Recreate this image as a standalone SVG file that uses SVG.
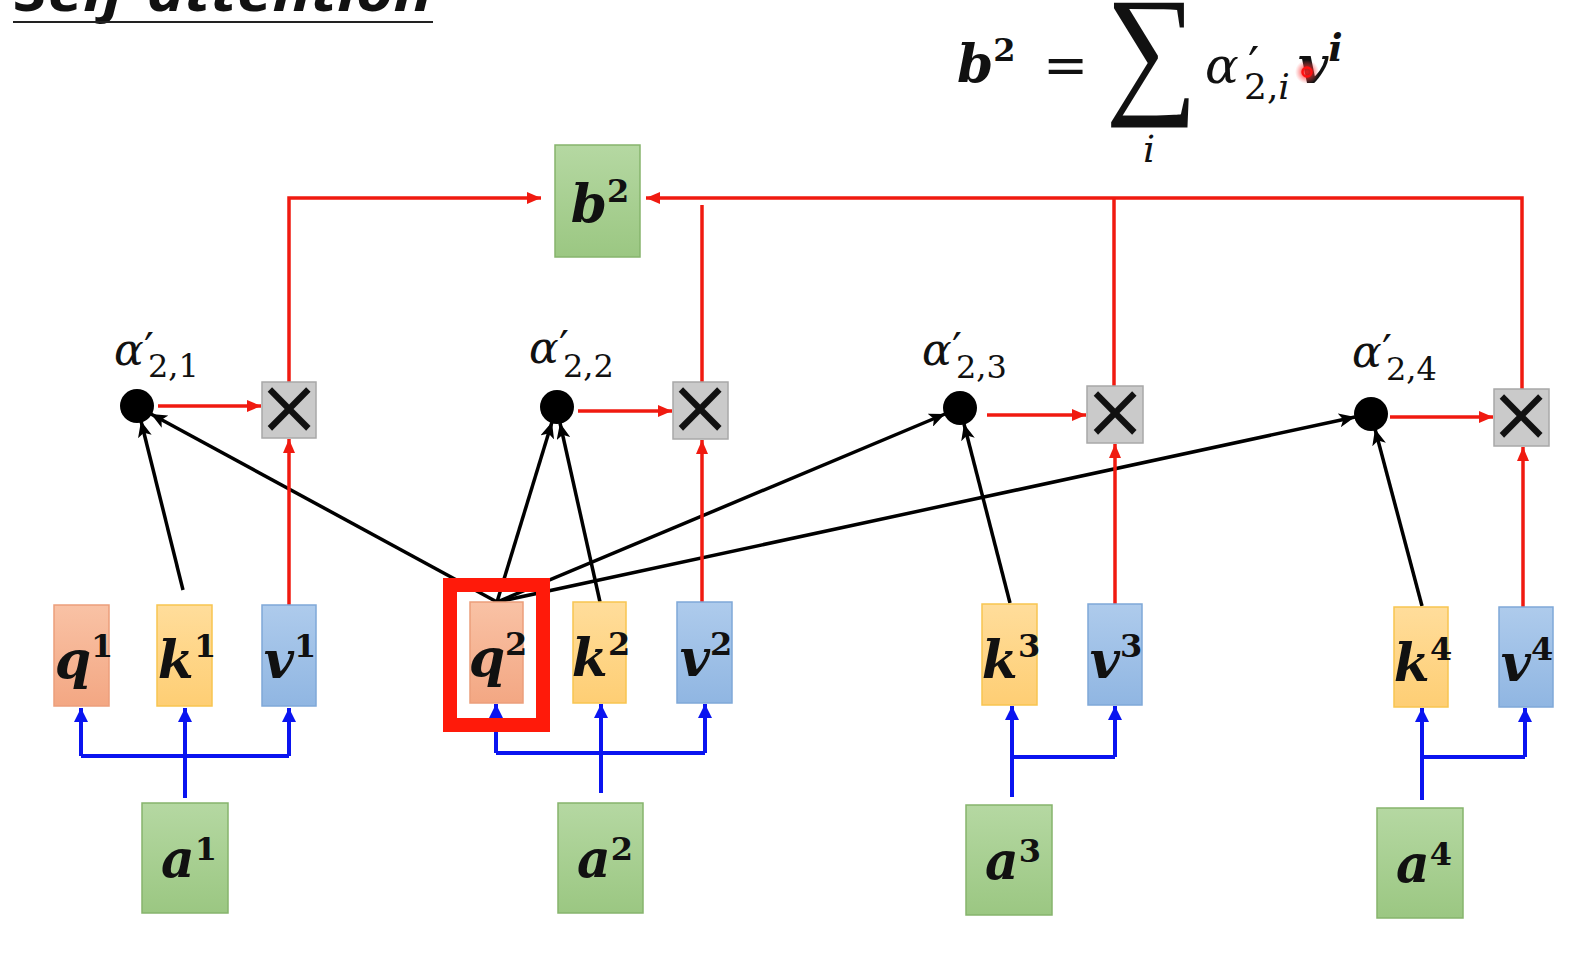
<svg xmlns="http://www.w3.org/2000/svg" width="1569" height="955" viewBox="0 0 1569 955">
<style>
  .var { font-family: "DejaVu Serif", "Liberation Serif", serif; font-weight: bold; font-style: italic; font-size: 52px; fill: #111; }
  .box { text-anchor: middle; }
  .sup { font-family: "DejaVu Serif", "Liberation Serif", serif; font-weight: bold; font-style: normal; font-size: 32px; fill: #111; }
  .alpha { font-family: "DejaVu Serif", "Liberation Serif", serif; font-style: italic; font-size: 44px; fill: #111; }
  .prime { font-family: "DejaVu Serif", "Liberation Serif", serif; font-size: 44px; fill: #111; }
  .sub { font-family: "DejaVu Serif", "Liberation Serif", serif; font-size: 32px; fill: #111; }
  .times { font-family: "DejaVu Sans", sans-serif; font-size: 76px; fill: #111; text-anchor: middle; }
  .red { stroke: #F01A10; stroke-width: 3.5; fill: none; }
  .blue { stroke: #0A14F0; stroke-width: 4; fill: none; }
  .black { stroke: #000; stroke-width: 3.5; fill: none; }
  .qbox { fill: url(#gq); stroke: #EC9E7B; stroke-width: 1.5; }
  .kbox { fill: url(#gk); stroke: #F8C550; stroke-width: 1.5; }
  .vbox { fill: url(#gv); stroke: #7FA8D8; stroke-width: 1.5; }
  .abox { fill: url(#ga); stroke: #86B46C; stroke-width: 1.5; }
  .xbox { fill: #CACACA; stroke: #A8A8A8; stroke-width: 1.5; }
</style>
<defs>
  <linearGradient id="gq" x1="0" y1="0" x2="0" y2="1"><stop offset="0" stop-color="#F9C2A5"/><stop offset="1" stop-color="#F3A783"/></linearGradient>
  <linearGradient id="gk" x1="0" y1="0" x2="0" y2="1"><stop offset="0" stop-color="#FFDD9B"/><stop offset="1" stop-color="#FECE74"/></linearGradient>
  <linearGradient id="gv" x1="0" y1="0" x2="0" y2="1"><stop offset="0" stop-color="#AECBEC"/><stop offset="1" stop-color="#90B6E2"/></linearGradient>
  <linearGradient id="ga" x1="0" y1="0" x2="0" y2="1"><stop offset="0" stop-color="#B5D8A2"/><stop offset="1" stop-color="#9BC782"/></linearGradient>
  <radialGradient id="laser"><stop offset="0" stop-color="#FF2020" stop-opacity="0.9"/><stop offset="0.5" stop-color="#FF3030" stop-opacity="0.55"/><stop offset="1" stop-color="#FF6060" stop-opacity="0"/></radialGradient>
  <marker id="ar" markerUnits="userSpaceOnUse" markerWidth="14" markerHeight="12" refX="14" refY="6" orient="auto"><path d="M0,0 L14,6 L0,12 z" fill="#F01A10"/></marker>
  <marker id="ab" markerUnits="userSpaceOnUse" markerWidth="14" markerHeight="14" refX="14" refY="7" orient="auto"><path d="M0,0 L14,7 L0,14 z" fill="#0A14F0"/></marker>
  <marker id="ak" markerUnits="userSpaceOnUse" markerWidth="16" markerHeight="14" refX="16" refY="7" orient="auto"><path d="M0,0 L16,7 L0,14 L4,7 z" fill="#000"/></marker>
</defs>
<rect width="1569" height="955" fill="#FFFFFF"/>

<!-- title (cut off at top) -->
<g id="title">
  <text x="14" y="11" font-family="Open Sans, Liberation Sans, sans-serif" font-weight="bold" font-style="italic" font-size="56" textLength="418" lengthAdjust="spacingAndGlyphs" fill="#111">Self-attention</text>
  <line x1="13" y1="22" x2="433" y2="22" stroke="#222" stroke-width="2"/>
</g>

<!-- formula -->
<g id="formula">
  <text x="957" y="82" class="var" font-size="60">b<tspan class="sup" font-size="40" dy="-21">2</tspan></text>
  <text x="1043" y="84" font-family="DejaVu Serif, serif" font-size="54" fill="#111">=</text>
  <text x="1228" y="97" transform="scale(0.9,1)" font-family="Liberation Serif, serif" font-size="144" fill="#111">∑</text>
  <text x="1143" y="162" font-family="DejaVu Serif, serif" font-style="italic" font-size="38" fill="#111">i</text>
  <text x="1205" y="83" font-family="DejaVu Serif, serif" font-style="italic" font-size="50" fill="#111">α</text>
  <text x="1248" y="83" font-family="DejaVu Serif, serif" font-size="50" fill="#111">′</text>
  <text x="1244" y="99" font-family="DejaVu Serif, serif" font-size="36" fill="#111">2,<tspan font-style="italic">i</tspan></text>
  <text x="1298" y="83" class="var" font-size="64">v<tspan dy="-22" font-size="38">i</tspan></text>
  <circle cx="1307" cy="72" r="12" fill="url(#laser)"/>
  <circle cx="1307" cy="72" r="4.5" fill="none" stroke="#FF1010" stroke-width="2.5"/>
</g>

<!-- connectors -->
<g id="connectors">
  <!-- blue: a -> q,k,v -->
  <path class="blue" d="M81,756 H289"/>
  <path class="blue" d="M185,798 V708" marker-end="url(#ab)"/>
  <path class="blue" d="M81,756 V708" marker-end="url(#ab)"/>
  <path class="blue" d="M289,756 V708" marker-end="url(#ab)"/>

  <path class="blue" d="M496,753 H705"/>
  <path class="blue" d="M601,793 V704" marker-end="url(#ab)"/>
  <path class="blue" d="M496,753 V704" marker-end="url(#ab)"/>
  <path class="blue" d="M705,753 V704" marker-end="url(#ab)"/>

  <path class="blue" d="M1012,757 H1115"/>
  <path class="blue" d="M1012,797 V706" marker-end="url(#ab)"/>
  <path class="blue" d="M1115,757 V706" marker-end="url(#ab)"/>

  <path class="blue" d="M1422,757 H1525"/>
  <path class="blue" d="M1422,800 V708" marker-end="url(#ab)"/>
  <path class="blue" d="M1525,757 V708" marker-end="url(#ab)"/>

  <!-- black: q2,k -> alpha -->
  <path class="black" d="M183,590 L141,421" marker-end="url(#ak)"/>
  <path class="black" d="M497,602 L151,414" marker-end="url(#ak)"/>
  <path class="black" d="M497,602 L552,422" marker-end="url(#ak)"/>
  <path class="black" d="M600,602 L560,423" marker-end="url(#ak)"/>
  <path class="black" d="M497,602 L945,414" marker-end="url(#ak)"/>
  <path class="black" d="M1010,603 L964,424" marker-end="url(#ak)"/>
  <path class="black" d="M497,602 L1355,417" marker-end="url(#ak)"/>
  <path class="black" d="M1422,606 L1375,429" marker-end="url(#ak)"/>

  <!-- red: alpha -> x, v -> x -->
  <path class="red" d="M158,406 H261" marker-end="url(#ar)"/>
  <path class="red" d="M578,411 H672" marker-end="url(#ar)"/>
  <path class="red" d="M987,415 H1086" marker-end="url(#ar)"/>
  <path class="red" d="M1390,417 H1493" marker-end="url(#ar)"/>
  <path class="red" d="M289,605 V439" marker-end="url(#ar)"/>
  <path class="red" d="M702,602 V440" marker-end="url(#ar)"/>
  <path class="red" d="M1115,604 V444" marker-end="url(#ar)"/>
  <path class="red" d="M1523,607 V447" marker-end="url(#ar)"/>

  <!-- red: x -> b2 -->
  <path class="red" d="M289,382 V198 H541" marker-end="url(#ar)"/>
  <path class="red" d="M1522,389 V198 H646" marker-end="url(#ar)"/>
  <path class="red" d="M1114,386 V198"/>
  <path class="red" d="M702,382 V205"/>
</g>

<!-- b2 -->
<g id="b2">
  <rect class="abox" x="555" y="145" width="85" height="112"/>
  <text x="600" y="222" class="var box">b<tspan class="sup" dy="-20">2</tspan></text>
</g>

<!-- alpha nodes -->
<g id="alpha1">
  <circle cx="137" cy="406" r="17" fill="#000"/>
  <text x="114" y="365" class="alpha">α</text>
  <text x="144" y="365" class="prime">′</text>
  <text x="148" y="377" class="sub">2,1</text>
</g>
<g id="alpha2">
  <circle cx="557" cy="407" r="17" fill="#000"/>
  <text x="529" y="363" class="alpha">α</text>
  <text x="559" y="363" class="prime">′</text>
  <text x="563" y="377" class="sub">2,2</text>
</g>
<g id="alpha3">
  <circle cx="960" cy="408" r="17" fill="#000"/>
  <text x="922" y="365" class="alpha">α</text>
  <text x="952" y="365" class="prime">′</text>
  <text x="956" y="378" class="sub">2,3</text>
</g>
<g id="alpha4">
  <circle cx="1371" cy="414" r="17" fill="#000"/>
  <text x="1352" y="367" class="alpha">α</text>
  <text x="1382" y="367" class="prime">′</text>
  <text x="1386" y="380" class="sub">2,4</text>
</g>

<!-- multiply nodes -->
<g id="mul1"><rect class="xbox" x="262" y="382" width="54" height="56"/><text x="289" y="433" class="times">×</text></g>
<g id="mul2"><rect class="xbox" x="673" y="382" width="55" height="57"/><text x="700" y="433" class="times">×</text></g>
<g id="mul3"><rect class="xbox" x="1087" y="386" width="56" height="57"/><text x="1115" y="437" class="times">×</text></g>
<g id="mul4"><rect class="xbox" x="1494" y="389" width="55" height="57"/><text x="1521" y="440" class="times">×</text></g>

<!-- q k v boxes -->
<g id="q1"><rect class="qbox" x="54" y="605" width="55" height="101"/><text x="84" y="678" class="var box">q<tspan class="sup" dy="-21">1</tspan></text></g>
<g id="k1"><rect class="kbox" x="157" y="605" width="55" height="101"/><text x="187" y="678" class="var box">k<tspan class="sup" dy="-21">1</tspan></text></g>
<g id="v1"><rect class="vbox" x="262" y="605" width="54" height="101"/><text x="290" y="678" class="var box">v<tspan class="sup" dy="-21">1</tspan></text></g>

<g id="q2"><rect class="qbox" x="470" y="602" width="53" height="101"/><text x="498" y="676" class="var box">q<tspan class="sup" dy="-21">2</tspan></text></g>
<g id="k2"><rect class="kbox" x="573" y="602" width="53" height="101"/><text x="601" y="676" class="var box">k<tspan class="sup" dy="-21">2</tspan></text></g>
<g id="v2"><rect class="vbox" x="677" y="602" width="55" height="101"/><text x="706" y="676" class="var box">v<tspan class="sup" dy="-21">2</tspan></text></g>

<g id="k3"><rect class="kbox" x="982" y="604" width="55" height="101"/><text x="1011" y="678" class="var box">k<tspan class="sup" dy="-21">3</tspan></text></g>
<g id="v3"><rect class="vbox" x="1088" y="604" width="54" height="101"/><text x="1116" y="678" class="var box">v<tspan class="sup" dy="-21">3</tspan></text></g>

<g id="k4"><rect class="kbox" x="1394" y="607" width="54" height="100"/><text x="1423" y="681" class="var box">k<tspan class="sup" dy="-21">4</tspan></text></g>
<g id="v4"><rect class="vbox" x="1499" y="607" width="54" height="100"/><text x="1527" y="681" class="var box">v<tspan class="sup" dy="-21">4</tspan></text></g>

<!-- highlight around q2 -->
<g id="highlight">
  <rect x="450" y="585" width="93" height="140" fill="none" stroke="#FF1A0A" stroke-width="14"/>
</g>

<!-- a boxes -->
<g id="a1"><rect class="abox" x="142" y="803" width="86" height="110"/><text x="189" y="877" class="var box">a<tspan class="sup" dy="-17">1</tspan></text></g>
<g id="a2"><rect class="abox" x="558" y="803" width="85" height="110"/><text x="605" y="877" class="var box">a<tspan class="sup" dy="-17">2</tspan></text></g>
<g id="a3"><rect class="abox" x="966" y="805" width="86" height="110"/><text x="1013" y="879" class="var box">a<tspan class="sup" dy="-17">3</tspan></text></g>
<g id="a4"><rect class="abox" x="1377" y="808" width="86" height="110"/><text x="1424" y="882" class="var box">a<tspan class="sup" dy="-17">4</tspan></text></g>
</svg>
